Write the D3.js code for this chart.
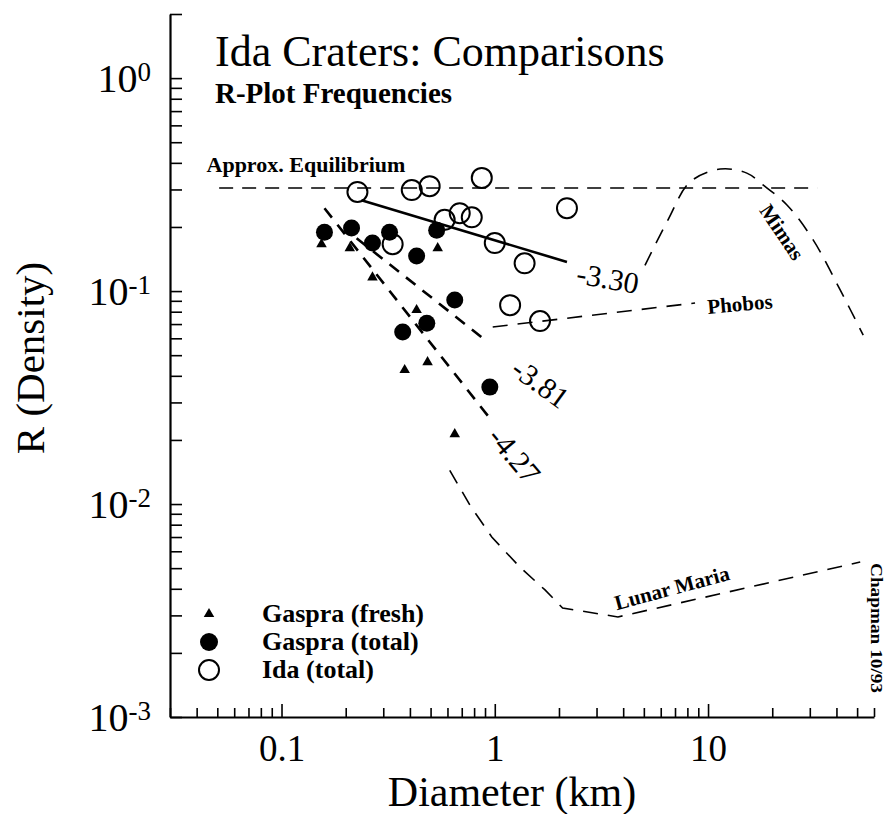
<!DOCTYPE html>
<html>
<head>
<meta charset="utf-8">
<script src="https://cdn.jsdelivr.net/npm/d3@7/dist/d3.min.js"></script>
<style>
  body { margin: 0; background: #fff; }
  svg text { font-family: "Liberation Serif", "Times New Roman", serif; fill: #000; }
  .axis path, .axis line { stroke: #000; }
</style>
</head>
<body>
<svg class="chart" width="888" height="814"></svg>
<script>
// --- data (diameter km, R density) ---
var xMajor = [0.1, 1, 10];
var xMajorLabels = ["0.1", "1", "10"];
var yMajor = [1, 0.1, 0.01, 0.001];
var yMajorExp = ["0", "-1", "-2", "-3"];

var gaspraFresh = [[0.154, 0.166], [0.209, 0.159], [0.267, 0.116], [0.430, 0.0815],
                   [0.540, 0.159], [0.378, 0.0426], [0.484, 0.0464], [0.649, 0.0213]];
var gaspraTotal = [[0.159, 0.189], [0.213, 0.198], [0.267, 0.168], [0.321, 0.189],
                   [0.430, 0.146], [0.534, 0.193], [0.649, 0.0907], [0.370, 0.0642],
                   [0.480, 0.0707], [0.948, 0.0354]];
var idaTotal = [[0.227, 0.292], [0.408, 0.298], [0.495, 0.311], [0.869, 0.340],
                [2.18, 0.245], [0.582, 0.216], [0.685, 0.232], [0.780, 0.222],
                [1.0, 0.168], [1.38, 0.135], [1.18, 0.0859], [1.63, 0.0723],
                [0.332, 0.166]];

var equilibrium = [[0.051, 0.305], [32.5, 0.305]];
var slope330 = [[0.237, 0.267], [2.18, 0.137]];
var slope381 = [[0.225, 0.177], [0.927, 0.0576]];
var slope427 = [[0.159, 0.245], [0.947, 0.0253]];
var phobos = [[0.978, 0.0678], [8.69, 0.0879]];
var mimas = [[5.06, 0.132], [6.49, 0.216], [8.23, 0.325], [11.4, 0.374], [15.2, 0.358],
             [18.1, 0.315], [23.5, 0.253], [31.1, 0.174], [41.7, 0.101], [53.4, 0.0621]];
var lunarMaria = [[0.615, 0.0144], [0.764, 0.00989], [0.968, 0.0070], [1.31, 0.00506],
                  [1.72, 0.00395], [2.08, 0.00325], [3.78, 0.00295], [51.7, 0.00534]];

// annotation anchors in data units
var notes = [
  { text: "-3.30", at: [3.39, 0.115], rot: 10, cls: "slope" },
  { text: "-3.81", at: [1.64, 0.037], rot: 36, cls: "slope" },
  { text: "-4.27", at: [1.24, 0.0170], rot: 50, cls: "slope" },
  { text: "Phobos", at: [14.1, 0.0869], rot: -5, cls: "name" },
  { text: "Mimas", at: [22.2, 0.189], rot: 56, cls: "name" },
  { text: "Lunar Maria", at: [6.78, 0.00403], rot: -15, cls: "name" }
];

var svg = d3.select(".chart");

var x = d3.scaleLog().domain([0.03, 60]).range([170, 874]);
var y = d3.scaleLog().domain([0.001, 2]).range([717, 14]);

// y axis: ticks point inward
svg.append("g")
  .attr("class", "axis")
  .attr("transform", "translate(170,0)")
  .call(d3.axisLeft(y).tickValues(y.ticks()).tickSizeInner(-12).tickSizeOuter(0).tickFormat(""))
  .call(function(g) {
    g.select(".domain").attr("stroke-width", 2.2);
    g.selectAll(".tick line").attr("stroke-width", 1.6);
  });

// x axis: minor and major ticks
var xMinor = x.ticks().filter(function(d) { return xMajor.indexOf(d) < 0; });
svg.append("g")
  .attr("class", "axis")
  .attr("transform", "translate(0,717)")
  .call(d3.axisBottom(x).tickValues(xMinor).tickSizeInner(-9).tickSizeOuter(0).tickFormat(""))
  .call(function(g) {
    g.select(".domain").attr("stroke-width", 2.2);
    g.selectAll(".tick line").attr("stroke-width", 1.6);
  });
svg.append("g")
  .attr("class", "axis")
  .attr("transform", "translate(0,717)")
  .call(d3.axisBottom(x).tickValues(xMajor).tickSizeInner(-13).tickSizeOuter(0).tickPadding(18)
    .tickFormat(function(d, i) { return xMajorLabels[i]; }))
  .call(function(g) {
    g.select(".domain").remove();
    g.selectAll(".tick line").attr("stroke-width", 1.6);
    g.selectAll(".tick text").attr("font-size", 37).attr("font-family", "Liberation Serif");
  });

// y tick labels with exponents
var yl = svg.append("g").selectAll("text")
  .data(yMajor)
  .enter().append("text")
  .attr("x", 151)
  .attr("y", function(d) { return y(d) + 14; })
  .attr("text-anchor", "end")
  .attr("font-size", 40);
yl.append("tspan").text("10");
yl.append("tspan")
  .attr("font-size", 27)
  .attr("dy", -11)
  .text(function(d, i) { return yMajorExp[i]; });

// axis titles
svg.append("text")
  .attr("x", 512).attr("y", 806)
  .attr("text-anchor", "middle")
  .attr("font-size", 42)
  .text("Diameter (km)");
svg.append("text")
  .attr("transform", "translate(44,358) rotate(-90)")
  .attr("text-anchor", "middle")
  .attr("font-size", 41)
  .text("R (Density)");

// titles
svg.append("text").attr("x", 215).attr("y", 66).attr("font-size", 44)
  .text("Ida Craters: Comparisons");
svg.append("text").attr("x", 215).attr("y", 103).attr("font-size", 29).attr("font-weight", "bold")
  .text("R-Plot Frequencies");

var line = d3.line()
  .x(function(d) { return x(d[0]); })
  .y(function(d) { return y(d[1]); });

// reference curves
svg.append("path").datum(equilibrium).attr("d", line)
  .attr("fill", "none").attr("stroke", "#000").attr("stroke-width", 1.6).attr("stroke-dasharray", "14,9");
svg.append("text")
  .attr("x", x(0.0445)).attr("y", y(0.362))
  .attr("font-size", 22).attr("font-weight", "bold")
  .text("Approx. Equilibrium");

[phobos, lunarMaria].forEach(function(c) {
  svg.append("path").datum(c).attr("d", line)
    .attr("fill", "none").attr("stroke", "#000").attr("stroke-width", 1.6).attr("stroke-dasharray", "15,10");
});
svg.append("path").datum(mimas).attr("d", line.curve(d3.curveCatmullRom))
  .attr("fill", "none").attr("stroke", "#000").attr("stroke-width", 1.6).attr("stroke-dasharray", "15,10");
line.curve(d3.curveLinear);

// fitted slopes
svg.append("path").datum(slope330).attr("d", line)
  .attr("fill", "none").attr("stroke", "#000").attr("stroke-width", 2.6);
[slope381, slope427].forEach(function(c) {
  svg.append("path").datum(c).attr("d", line)
    .attr("fill", "none").attr("stroke", "#000").attr("stroke-width", 2.6).attr("stroke-dasharray", "12,9");
});

// data points
svg.append("g").selectAll("circle")
  .data(idaTotal)
  .enter().append("circle")
  .attr("cx", function(d) { return x(d[0]); })
  .attr("cy", function(d) { return y(d[1]); })
  .attr("r", 10)
  .attr("fill", "none").attr("stroke", "#000").attr("stroke-width", 2);

svg.append("g").selectAll("circle")
  .data(gaspraTotal)
  .enter().append("circle")
  .attr("cx", function(d) { return x(d[0]); })
  .attr("cy", function(d) { return y(d[1]); })
  .attr("r", 8.5)
  .attr("fill", "#000");

var tri = d3.symbol().type(d3.symbolTriangle).size(48);
svg.append("g").selectAll("path")
  .data(gaspraFresh)
  .enter().append("path")
  .attr("d", tri)
  .attr("transform", function(d) { return "translate(" + x(d[0]) + "," + y(d[1]) + ")"; })
  .attr("fill", "#000");

// curve labels
svg.append("g").selectAll("text")
  .data(notes)
  .enter().append("text")
  .attr("transform", function(d) { return "translate(" + x(d.at[0]) + "," + y(d.at[1]) + ") rotate(" + d.rot + ")"; })
  .attr("text-anchor", "middle")
  .attr("dominant-baseline", "central")
  .attr("font-size", function(d) { return d.cls == "slope" ? 30 : 21; })
  .attr("font-weight", function(d) { return d.cls == "slope" ? "normal" : "bold"; })
  .text(function(d) { return d.text; });

svg.append("text")
  .attr("transform", "translate(871,563) rotate(90)")
  .attr("font-size", 16).attr("font-weight", "bold")
  .attr("textLength", 130).attr("lengthAdjust", "spacingAndGlyphs")
  .text("Chapman 10/93");

// legend
var legend = svg.append("g");
legend.append("path").attr("d", tri).attr("transform", "translate(209,614)").attr("fill", "#000");
legend.append("circle").attr("cx", 209).attr("cy", 642).attr("r", 9).attr("fill", "#000");
legend.append("circle").attr("cx", 209).attr("cy", 670).attr("r", 10)
  .attr("fill", "none").attr("stroke", "#000").attr("stroke-width", 2);
var legendText = ["Gaspra (fresh)", "Gaspra (total)", "Ida (total)"];
legend.selectAll("text")
  .data(legendText)
  .enter().append("text")
  .attr("x", 262)
  .attr("y", function(d, i) { return 622 + i * 28; })
  .attr("font-size", 26).attr("font-weight", "bold")
  .text(function(d) { return d; });
</script>
</body>
</html>
